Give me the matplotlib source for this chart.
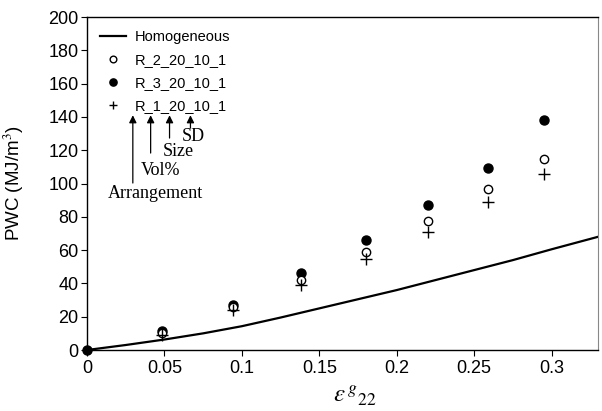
import matplotlib.pyplot as plt
import numpy as np
from matplotlib import rcParams

rcParams['font.family'] = ['Liberation Sans', 'DejaVu Sans']
rcParams['mathtext.fontset'] = 'stix'

# strain values of the measured points
strain = [0, 0.0486, 0.0942, 0.138, 0.1803, 0.2203, 0.2589, 0.2953]
pwc_r2 = [0, 10.5, 26, 42, 59, 77.5, 96.5, 114.7]
pwc_r3 = [0, 11.4, 27.3, 46, 66, 87.2, 109.5, 138.2]
pwc_r1 = [0, 9, 24, 39, 54.5, 70.8, 88.7, 106]

# homogeneous curve
homo_x = [0, 0.025, 0.05, 0.075, 0.1, 0.125, 0.15, 0.175, 0.2, 0.225, 0.25, 0.275, 0.3, 0.33]
homo_y = [0, 3, 6.3, 10, 14.3, 19.5, 25, 30.5, 36, 42, 48, 54, 60.5, 68]

fig = plt.figure(figsize=(6.02, 4.11), dpi=100)
ax = fig.add_axes([0.1445, 0.1484, 0.849, 0.8102])

ax.plot(homo_x, homo_y, color='black', lw=1.6, label='Homogeneous')
ax.plot(strain[1:], pwc_r3[1:], 'o', color='black', ms=6.5, ls='none', label='R_3_20_10_1',
        zorder=3)
ax.plot(strain[1:], pwc_r2[1:], 'o', mfc='white', mec='black', mew=1.0, ms=6, ls='none',
        label='R_2_20_10_1', zorder=3.1)
ax.plot(strain[1:], pwc_r1[1:], '+', color='black', mew=1.0, ms=8, ls='none',
        label='R_1_20_10_1', zorder=3.2)
# origin point sits on the axes corner
ax.plot(strain[0], pwc_r3[0], 'o', color='black', ms=6.5, clip_on=False, zorder=4)

handles, labels = ax.get_legend_handles_labels()
order = [0, 2, 1, 3]
ax.legend([handles[i] for i in order], [labels[i] for i in order],
          loc='upper left', bbox_to_anchor=(0.0, 1.0), frameon=False,
          fontsize=10.5, handlelength=1.8, handletextpad=0.55, labelspacing=0.62,
          markerscale=0.8)

# arrows explaining the sample name
notes = [('Arrangement', 0.0296, 100.3, 0.0443, 94.3),
         ('Vol%', 0.0411, 118.3, 0.0475, 108),
         ('Size', 0.0533, 127.3, 0.059, 119.5),
         ('SD', 0.0668, 133.3, 0.0687, 128)]
for txt, ax_x, tail_y, tx, ty in notes:
    ax.annotate('', xy=(ax_x, 141), xytext=(ax_x, tail_y),
                arrowprops=dict(arrowstyle='-|>', color='black', lw=0.9,
                                mutation_scale=11, shrinkA=0, shrinkB=0))
    ax.text(tx, ty, txt, ha='center', va='center', fontsize=13,
            family='Liberation Serif')

ax.set_xlim(0, 0.33)
ax.set_ylim(0, 200)
ax.set_xticks([0, 0.05, 0.1, 0.15, 0.2, 0.25, 0.3])
ax.set_xticklabels(['0', '0.05', '0.1', '0.15', '0.2', '0.25', '0.3'])
ax.set_yticks(range(0, 201, 20))
ax.tick_params(labelsize=13, direction='out', length=4, width=0.8)
ax.tick_params(axis='x', pad=3)
ax.tick_params(axis='y', pad=2)
ax.spines['right'].set_color('#888888')
for s in ['left', 'bottom', 'top']:
    ax.spines[s].set_linewidth(1.0)

ax.set_ylabel('PWC (MJ/m$^3$)', fontsize=13.5)
ax.yaxis.set_label_coords(-0.12, 0.5)
ax.set_xlabel(r'$\varepsilon^{\,g}{}_{22}$', fontsize=18)
ax.xaxis.set_label_coords(0.525, -0.1)

plt.savefig('out.png', dpi=100)
